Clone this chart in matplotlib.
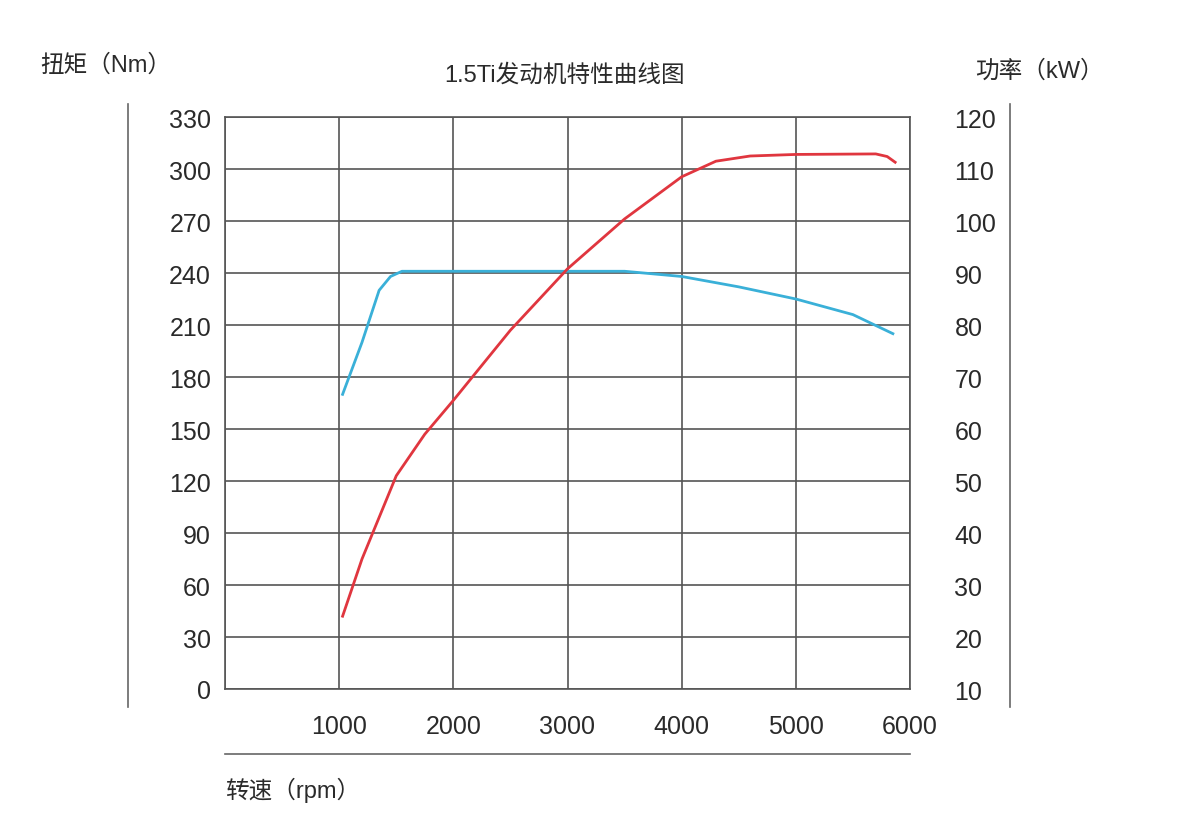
import matplotlib.pyplot as plt
from matplotlib.lines import Line2D

plt.rcParams['font.family'] = ['Liberation Sans', 'Noto Sans CJK SC', 'DejaVu Sans']

# torque curve (left axis, Nm)
torque_rpm = [1030, 1200, 1350, 1450, 1550, 2000, 3000, 3500, 4000, 4500, 5000, 5500, 5850]
torque_nm = [170, 200, 230, 238, 241, 241, 241, 241, 238, 232, 225, 216, 205]

# power curve (right axis, kW)
power_rpm = [1030, 1200, 1500, 1750, 2000, 2500, 3000, 3500, 4000, 4300, 4600, 5000, 5700, 5800, 5870]
power_kw = [24, 35, 51, 59, 65.5, 79, 90.8, 100.4, 108.5, 111.5, 112.5, 112.8, 112.9, 112.4, 111.3]

left_ticks = list(range(0, 331, 30))
right_ticks = list(range(10, 121, 10))
x_ticks = [1000, 2000, 3000, 4000, 5000, 6000]

text_c = '#2a2a2a'
grid_c = '#555555'

fig = plt.figure(figsize=(12.04, 8.28), dpi=100)
ax = fig.add_axes([225 / 1204, 138 / 828, 685 / 1204, 572 / 828])
ax.set_xlim(0, 6000)
ax.set_ylim(0, 330)
ax.set_xticks(range(0, 6001, 1000))
ax.set_xticklabels([''] + [str(v) for v in x_ticks])
ax.set_yticks(left_ticks)
ax.grid(True, color=grid_c, linewidth=1.2)
for s in ax.spines.values():
    s.set_color(grid_c)
    s.set_linewidth(1.2)
ax.tick_params(length=0, labelsize=18, colors=text_c)
ax.tick_params(axis='y', pad=10)
ax.tick_params(axis='x', pad=18)

ax.plot(torque_rpm, torque_nm, color='#3ab0d8', linewidth=2)

ax2 = ax.twinx()
ax2.set_ylim(10, 120)
ax2.set_yticks(right_ticks)
ax2.tick_params(length=0, labelsize=18, colors=text_c, pad=32)
for s in ax2.spines.values():
    s.set_visible(False)
ax2.plot(power_rpm, power_kw, color='#e0363f', linewidth=2)

# decorative outer axis lines
fig.add_artist(Line2D([128 / 1204, 128 / 1204], [1 - 105 / 828, 1 - 708 / 828], color='#666666', lw=1.2))
fig.add_artist(Line2D([1010 / 1204, 1010 / 1204], [1 - 105 / 828, 1 - 708 / 828], color='#666666', lw=1.2))
fig.add_artist(Line2D([225 / 1204, 910 / 1204], [1 - 755 / 828, 1 - 755 / 828], color='#666666', lw=1.2))

fig.text(40 / 1204, 1 - 65 / 828, '扭矩（Nm）', fontsize=17, color=text_c, va='center')
fig.text(565 / 1204, 1 - 75 / 828, '1.5Ti发动机特性曲线图', fontsize=17, color=text_c, va='center', ha='center')
fig.text(975 / 1204, 1 - 72 / 828, '功率（kW）', fontsize=17, color=text_c, va='center')
fig.text(225 / 1204, 1 - 790 / 828, '转速（rpm）', fontsize=17, color=text_c, va='center')

fig.savefig('out.png', dpi=100)
